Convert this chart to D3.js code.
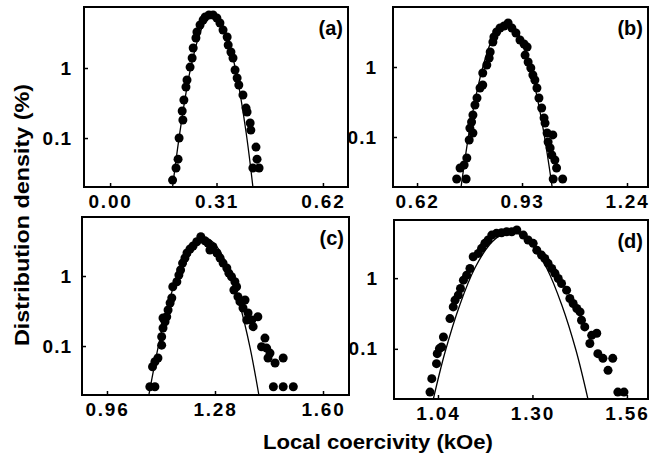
<!DOCTYPE html>
<meta charset="utf-8">
<script src="https://d3js.org/d3.v7.min.js"></script>
<style>
  body { margin: 0; background: #fff; }
  text { font-family: "Liberation Sans", Arial, sans-serif; font-weight: bold; fill: #000; }
</style>
<div id="chart"></div>
<script>

// ---- data ----
// (a)
var aX = [0.182,0.192,0.198,0.201,0.212,0.210,0.215,0.221,0.224,0.233,0.239,0.242,0.250,0.253,0.262,0.271,0.277,0.288,0.300,
          0.311,0.320,0.329,0.341,0.344,0.352,0.358,0.364,0.370,0.375,0.387,0.396,0.399,0.408,0.410,0.425,0.428,0.416,0.434]
var aY = [0.0251,0.0373,0.050,0.10,0.181,0.243,0.349,0.535,0.674,1.03,1.39,1.93,2.68,3.27,4.11,4.85,5.35,5.71,5.71,
          5.18,4.39,3.49,2.77,2.13,1.69,1.39,0.936,0.72,0.572,0.411,0.268,0.235,0.164,0.130,0.0743,0.050,0.0373,0.0373]
var aFitX = [0.182,0.204,0.233,0.262,0.280,0.300,0.320,0.338,0.367,0.396,0.416]
var aFitY = [0.020,0.128,0.908,3.19,4.83,5.71,4.79,3.13,0.879,0.122,0.020]

// (b)
var bX = [0.737,0.765,0.747,0.759,0.767,0.774,0.785,0.776,0.781,0.785,0.791,0.797,0.806,0.814,0.814,0.826,0.833,0.836,0.844,0.847,0.855,0.865,0.877,0.889,
          0.900,0.912,0.924,0.936,0.945,0.939,0.948,0.956,0.962,0.968,0.974,0.980,0.988,0.995,0.998,1.004,1.021,1.007,1.013,1.018,1.027,1.032,1.022,1.050]
var bY = [0.0251,0.0251,0.0361,0.0398,0.0501,0.0906,0.114,0.134,0.164,0.206,0.287,0.361,0.501,0.553,0.821,1.07,1.34,1.64,2.28,2.68,3.16,3.61,3.85,4.25,
          3.61,3.06,2.43,2.13,1.93,1.48,1.18,0.968,0.769,0.652,0.501,0.361,0.260,0.187,0.158,0.114,0.107,0.0849,0.0697,0.0553,0.0469,0.0361,0.0251,0.0251]
var bFitX = [0.750,0.776,0.806,0.836,0.865,0.884,0.903,0.933,0.962,0.992,1.019]
var bFitY = [0.0193,0.134,0.698,2.15,3.94,4.40,3.94,2.15,0.698,0.134,0.0193]

// (c)
var cX = [1.087,1.102,1.095,1.102,1.111,1.122,1.122,1.126,1.132,1.126,1.137,1.141,1.147,1.152,1.155,1.167,1.173,1.178,1.184,1.191,1.197,1.206,1.215,1.226,1.238,
          1.250,1.259,1.265,1.274,1.286,1.295,1.304,1.315,1.321,1.329,1.339,1.344,1.336,1.348,1.354,1.369,1.363,1.378,1.374,1.389,1.393,1.407,
          1.428,1.418,1.433,1.443,1.437,1.458,1.482,1.453,1.482,1.512]
var cY = [0.0262,0.0262,0.0506,0.0597,0.0674,0.103,0.136,0.181,0.222,0.251,0.262,0.327,0.411,0.485,0.703,0.829,1.03,1.22,1.53,1.81,2.13,2.43,2.68,3.09,3.64,
          3.19,2.96,2.35,2.62,2.13,1.81,1.53,1.30,1.10,0.977,0.829,0.703,0.631,0.506,0.430,0.454,0.349,0.296,0.235,0.235,0.189,0.262,
          0.130,0.0977,0.0936,0.0794,0.0674,0.0572,0.0674,0.0262,0.0262,0.0262]
var cFitX = [1.084,1.117,1.147,1.176,1.206,1.227,1.247,1.268,1.295,1.324,1.354,1.384,1.410]
var cFitY = [0.020,0.128,0.485,1.31,2.49,3.21,3.49,3.21,2.25,1.10,0.382,0.0944,0.020]

// (d)
var dX = [1.018,1.023,1.036,1.038,1.044,1.050,1.055,1.073,1.082,1.087,1.096,1.102,1.110,1.119,1.128,1.137,1.151,1.160,1.169,1.178,1.188,1.201,1.215,1.229,1.243,1.257,
          1.275,1.288,1.302,1.312,1.325,1.334,1.343,1.353,1.362,1.371,1.380,1.394,1.403,1.412,1.422,1.431,1.435,1.444,1.463,1.458,1.477,1.480,1.494,1.521,1.508,1.535,1.552]
var dY = [0.0244,0.0378,0.0617,0.0855,0.1007,0.106,0.147,0.268,0.392,0.488,0.574,0.714,0.937,1.10,1.37,2.01,2.24,2.64,3.11,3.46,4.07,4.31,4.39,4.54,4.54,4.80,
          4.07,3.46,3.11,2.49,2.12,1.90,1.62,1.37,1.17,0.99,0.841,0.676,0.515,0.438,0.372,0.333,0.254,0.204,0.155,0.119,0.166,0.0855,0.0733,0.0733,0.0496,0.0244,0.0244]
var dFitX = [1.027,1.059,1.101,1.142,1.183,1.216,1.241,1.266,1.299,1.340,1.381,1.420,1.453]
var dFitY = [0.0192,0.0879,0.431,1.40,3.02,4.17,4.47,4.14,2.97,1.36,0.414,0.0946,0.0192]

// axis tick labels
var aTicks = [0.00, 0.31, 0.62]
var bTicks = [0.62, 0.93, 1.24]
var cTicks = [0.96, 1.28, 1.60]
var dTicks = [1.04, 1.30, 1.56]
var yTicks = [0.1, 1]

// ---- layout for each panel ----
var panels = [
  { tag: "(a)", x: aX, y: aY, fx: aFitX, fy: aFitY, ticks: aTicks, xdom: [-0.076, 0.693], ydom: [0.020, 7.43],
    left: 84, top: 7, w: 264, h: 180, ylab: -12 },
  { tag: "(b)", x: bX, y: bY, fx: bFitX, fy: bFitY, ticks: bTicks, xdom: [0.549, 1.302], ydom: [0.0193, 7.2],
    left: 393, top: 7, w: 255, h: 180, ylab: -16 },
  { tag: "(c)", x: cX, y: cY, fx: cFitX, fy: cFitY, ticks: cTicks, xdom: [0.886, 1.677], ydom: [0.020, 6.96],
    left: 82, top: 217, w: 267, h: 178, ylab: -10 },
  { tag: "(d)", x: dX, y: dY, fx: dFitX, fy: dFitY, ticks: dTicks, xdom: [0.919, 1.618], ydom: [0.0195, 6.65],
    left: 394, top: 220, w: 254, h: 179, ylab: -16 }
]

var svg = d3.select("#chart")
  .append("svg")
  .attr("width", 657)
  .attr("height", 466)

panels.forEach(function(p, i) {
  var g = svg.append("g").attr("transform", "translate(" + p.left + "," + p.top + ")")

  var x = d3.scaleLinear().domain(p.xdom).range([0, p.w])
  var y = d3.scaleLog().domain(p.ydom).range([p.h, 0])

  g.append("clipPath").attr("id", "clip" + i)
    .append("rect").attr("width", p.w).attr("height", p.h)

  // x axis
  var xa = g.append("g")
    .attr("transform", "translate(0," + p.h + ")")
    .call(d3.axisBottom(x).tickValues(p.ticks).tickFormat(d3.format(".2f")).tickSizeInner(-4).tickSizeOuter(0))
  xa.select(".domain").remove()
  xa.selectAll("text").attr("y", 21).attr("dy", 0)
    .style("font-size", "19px").style("letter-spacing", "1.8px")

  // y axis
  var ya = g.append("g")
    .call(d3.axisLeft(y).tickValues(yTicks).tickFormat(function(d) { return d === 1 ? "1" : "0.1" })
      .tickSizeInner(-4).tickSizeOuter(0))
  ya.select(".domain").remove()
  ya.selectAll("text").attr("x", p.ylab).style("font-size", "19px").style("letter-spacing", "1px")
  g.selectAll(".tick line").attr("stroke", "#000").attr("stroke-width", 1.5)

  // frame
  g.append("rect")
    .attr("width", p.w).attr("height", p.h)
    .attr("fill", "none").attr("stroke", "#000").attr("stroke-width", 2)

  // fit curve
  var pts = p.fx.map(function(v, k) { return [v, p.fy[k]] })
  g.append("path")
    .datum(pts)
    .attr("clip-path", "url(#clip" + i + ")")
    .attr("fill", "none").attr("stroke", "#000").attr("stroke-width", 1.3)
    .attr("d", d3.line().x(function(d) { return x(d[0]) }).y(function(d) { return y(d[1]) }).curve(d3.curveCatmullRom))

  // measured points
  g.selectAll("circle")
    .data(p.x.map(function(v, k) { return [v, p.y[k]] }))
    .enter()
    .append("circle")
      .attr("cx", function(d) { return x(d[0]) })
      .attr("cy", function(d) { return y(d[1]) })
      .attr("r", 4.5)
      .style("fill", "#000")

  // panel tag
  g.append("text")
    .attr("x", p.w - 5).attr("y", 28)
    .attr("text-anchor", "end")
    .style("font-size", "20px")
    .text(p.tag)
})

// axis titles
svg.append("text")
  .attr("transform", "translate(29,215) rotate(-90)")
  .attr("text-anchor", "middle")
  .attr("textLength", 262)
  .attr("lengthAdjust", "spacingAndGlyphs")
  .style("font-size", "20px")
  .text("Distribution density (%)")

svg.append("text")
  .attr("x", 378).attr("y", 449)
  .attr("text-anchor", "middle")
  .attr("textLength", 230)
  .attr("lengthAdjust", "spacingAndGlyphs")
  .style("font-size", "20px")
  .text("Local coercivity (kOe)")

</script>
